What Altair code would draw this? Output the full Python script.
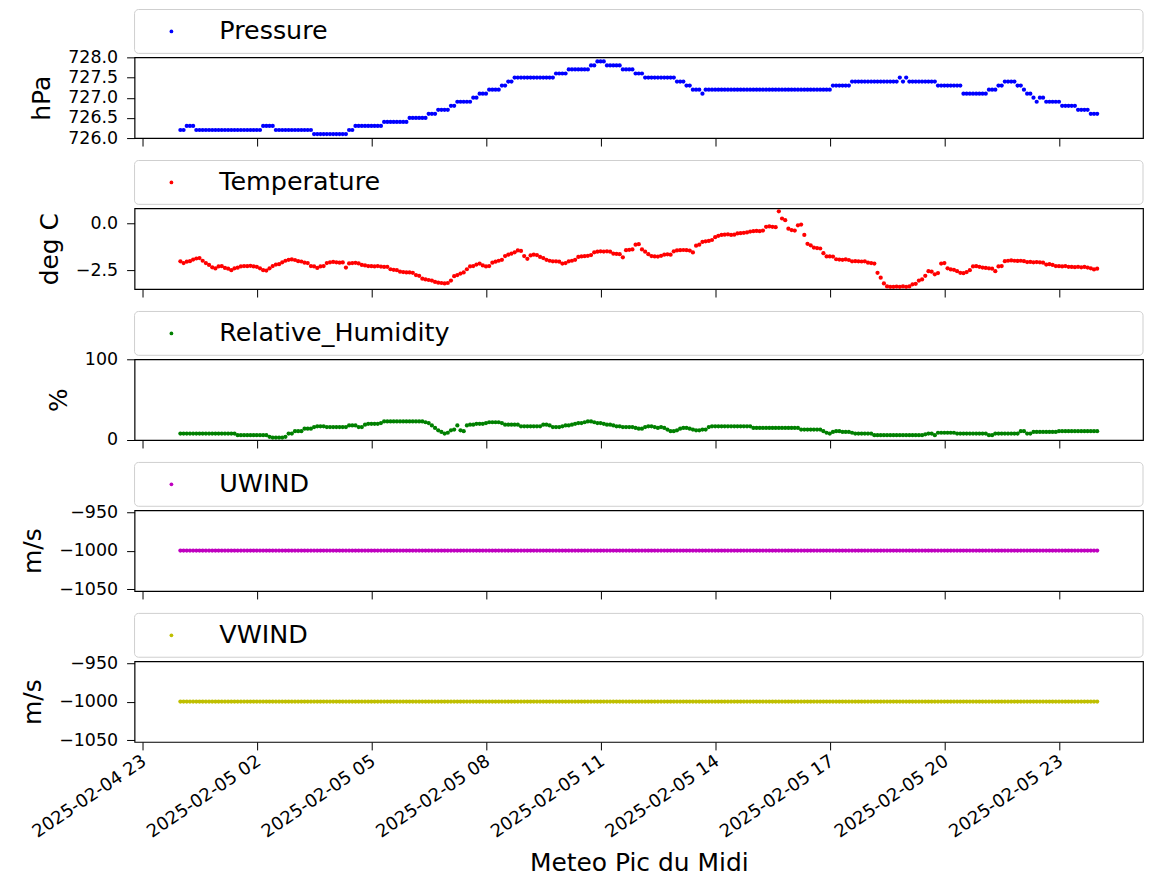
import altair as alt
import pandas as pd

# ---------------- data (5-minute samples, 2025-02-05 00:00 -> 2025-02-06 00:00) ----------------
pressure = [
    726.2, 726.2, 726.3, 726.3, 726.3, 726.2, 726.2, 726.2, 726.2, 726.2, 726.2, 726.2,
    726.2, 726.2, 726.2, 726.2, 726.2, 726.2, 726.2, 726.2, 726.2, 726.2, 726.2, 726.2,
    726.2, 726.2, 726.3, 726.3, 726.3, 726.3, 726.2, 726.2, 726.2, 726.2, 726.2, 726.2,
    726.2, 726.2, 726.2, 726.2, 726.2, 726.2, 726.1, 726.1, 726.1, 726.1, 726.1, 726.1,
    726.1, 726.1, 726.1, 726.1, 726.1, 726.2, 726.2, 726.3, 726.3, 726.3, 726.3, 726.3,
    726.3, 726.3, 726.3, 726.3, 726.4, 726.4, 726.4, 726.4, 726.4, 726.4, 726.4, 726.4,
    726.5, 726.5, 726.5, 726.5, 726.5, 726.5, 726.6, 726.6, 726.6, 726.7, 726.7, 726.7,
    726.7, 726.8, 726.8, 726.9, 726.9, 726.9, 726.9, 726.9, 727.0, 727.0, 727.1, 727.1,
    727.1, 727.2, 727.2, 727.2, 727.2, 727.3, 727.3, 727.4, 727.4, 727.5, 727.5, 727.5,
    727.5, 727.5, 727.5, 727.5, 727.5, 727.5, 727.5, 727.5, 727.5, 727.5, 727.6, 727.6,
    727.6, 727.6, 727.7, 727.7, 727.7, 727.7, 727.7, 727.7, 727.7, 727.8, 727.8, 727.9,
    727.9, 727.9, 727.8, 727.8, 727.8, 727.8, 727.8, 727.7, 727.7, 727.7, 727.7, 727.6,
    727.6, 727.6, 727.5, 727.5, 727.5, 727.5, 727.5, 727.5, 727.5, 727.5, 727.5, 727.5,
    727.4, 727.4, 727.4, 727.3, 727.3, 727.2, 727.2, 727.2, 727.1, 727.2, 727.2, 727.2,
    727.2, 727.2, 727.2, 727.2, 727.2, 727.2, 727.2, 727.2, 727.2, 727.2, 727.2, 727.2,
    727.2, 727.2, 727.2, 727.2, 727.2, 727.2, 727.2, 727.2, 727.2, 727.2, 727.2, 727.2,
    727.2, 727.2, 727.2, 727.2, 727.2, 727.2, 727.2, 727.2, 727.2, 727.2, 727.2, 727.2,
    727.2, 727.3, 727.3, 727.3, 727.3, 727.3, 727.3, 727.4, 727.4, 727.4, 727.4, 727.4,
    727.4, 727.4, 727.4, 727.4, 727.4, 727.4, 727.4, 727.4, 727.4, 727.4, 727.5, 727.4,
    727.5, 727.4, 727.4, 727.4, 727.4, 727.4, 727.4, 727.4, 727.4, 727.4, 727.3, 727.3,
    727.3, 727.3, 727.3, 727.3, 727.3, 727.3, 727.1, 727.1, 727.1, 727.1, 727.1, 727.1,
    727.1, 727.1, 727.2, 727.2, 727.2, 727.3, 727.3, 727.4, 727.4, 727.4, 727.4, 727.3,
    727.3, 727.2, 727.1, 727.1, 727.0, 726.9, 727.0, 727.0, 726.9, 726.9, 726.9, 726.9,
    726.9, 726.8, 726.8, 726.8, 726.8, 726.8, 726.7, 726.7, 726.7, 726.7, 726.6, 726.6,
    726.6,
]

temperature = [
    -2.03, -2.12, -2.05, -2.02, -1.94, -1.88, -1.86, -2.00, -2.12, -2.22, -2.35, -2.41,
    -2.30, -2.29, -2.38, -2.42, -2.50, -2.40, -2.37, -2.30, -2.28, -2.29, -2.27, -2.30,
    -2.32, -2.40, -2.50, -2.52, -2.40, -2.28, -2.20, -2.18, -2.08, -2.00, -1.95, -1.93,
    -1.96, -2.02, -2.04, -2.10, -2.12, -2.28, -2.30, -2.38, -2.30, -2.28, -2.12, -2.08,
    -2.06, -2.08, -2.10, -2.09, -2.36, -2.14, -2.12, -2.11, -2.14, -2.22, -2.25, -2.28,
    -2.29, -2.30, -2.28, -2.31, -2.33, -2.32, -2.45, -2.48, -2.50, -2.58, -2.60, -2.62,
    -2.62, -2.64, -2.76, -2.80, -2.95, -2.99, -3.02, -3.05, -3.12, -3.16, -3.18, -3.20,
    -3.18, -3.05, -2.82, -2.76, -2.68, -2.62, -2.45, -2.30, -2.28, -2.20, -2.15, -2.25,
    -2.30, -2.28, -2.10, -2.05, -2.00, -1.95, -1.75, -1.68, -1.62, -1.55, -1.45, -1.48,
    -1.75, -1.90, -1.72, -1.68, -1.70, -1.80, -1.86, -1.95, -2.00, -2.03, -2.03, -2.05,
    -2.15, -2.12, -2.03, -2.00, -1.95, -1.80, -1.77, -1.76, -1.74, -1.70, -1.55, -1.52,
    -1.50, -1.51, -1.50, -1.52, -1.62, -1.63, -1.65, -1.82, -1.44, -1.42, -1.40, -1.15,
    -1.12, -1.40, -1.52, -1.65, -1.75, -1.77, -1.78, -1.74, -1.68, -1.66, -1.68, -1.50,
    -1.45, -1.44, -1.43, -1.44, -1.46, -1.56, -1.20, -1.15, -1.00, -0.97, -0.95, -0.90,
    -0.75, -0.68, -0.63, -0.62, -0.60, -0.63, -0.62, -0.55, -0.54, -0.52, -0.50, -0.45,
    -0.43, -0.42, -0.43, -0.40, -0.20, -0.18, -0.20, -0.22, 0.62, 0.24, 0.15, -0.30,
    -0.37, -0.40, -0.12, -0.08, -0.63, -1.10, -1.18, -1.30, -1.33, -1.35, -1.60, -1.77,
    -1.77, -1.78, -1.92, -1.94, -1.95, -1.93, -1.96, -2.03, -2.02, -2.03, -2.04, -2.03,
    -2.10, -2.12, -2.15, -2.64, -2.90, -3.20, -3.36, -3.38, -3.38, -3.37, -3.38, -3.36,
    -3.38, -3.36, -3.25, -3.22, -3.05, -2.99, -2.80, -2.55, -2.58, -2.72, -2.65, -2.15,
    -2.12, -2.40, -2.46, -2.48, -2.55, -2.64, -2.66, -2.60, -2.50, -2.30, -2.29, -2.32,
    -2.36, -2.38, -2.40, -2.42, -2.55, -2.30, -2.28, -2.02, -2.00, -1.98, -2.00, -2.01,
    -2.00, -2.02, -2.07, -2.06, -2.08, -2.07, -2.08, -2.10, -2.20, -2.18, -2.22, -2.28,
    -2.29, -2.30, -2.28, -2.32, -2.33, -2.34, -2.32, -2.35, -2.33, -2.36, -2.40, -2.46,
    -2.42,
]

humidity = [
    8, 8, 8, 8, 8, 8, 8, 8, 8, 8, 8, 8,
    8, 8, 8, 8, 8, 8, 6, 6, 6, 6, 6, 6,
    6, 6, 6, 6, 4, 3, 3, 3, 3, 4, 8, 8,
    11, 11, 11, 14, 14, 14, 16, 17, 17, 17, 16, 16,
    16, 16, 16, 16, 16, 18, 18, 18, 16, 16, 19, 20,
    20, 20, 20, 21, 23, 23, 23, 23, 23, 23, 23, 23,
    23, 23, 23, 23, 23, 22, 21, 18, 15, 12, 10, 8,
    9, 12, 13, 18, 12, 11, 18, 19, 19, 20, 20, 20,
    21, 22, 22, 22, 22, 21, 19, 19, 19, 19, 19, 17,
    17, 17, 17, 17, 17, 17, 19, 19, 18, 16, 16, 16,
    17, 18, 18, 19, 20, 21, 21, 22, 23, 23, 22, 21,
    21, 20, 19, 19, 18, 17, 17, 16, 16, 16, 16, 15,
    14, 14, 16, 17, 17, 16, 15, 16, 15, 13, 11, 11,
    12, 14, 15, 15, 14, 13, 12, 12, 13, 13, 16, 17,
    17, 17, 17, 17, 17, 17, 17, 17, 17, 17, 17, 17,
    15, 15, 15, 15, 15, 15, 15, 15, 15, 15, 15, 15,
    15, 15, 15, 13, 13, 13, 13, 13, 13, 13, 11, 9,
    8, 10, 11, 11, 10, 10, 10, 9, 8, 8, 8, 8,
    8, 8, 6, 6, 6, 6, 6, 6, 6, 6, 6, 6,
    6, 6, 6, 6, 6, 6, 7, 8, 8, 6, 9, 9,
    9, 9, 9, 9, 8, 8, 8, 8, 8, 8, 8, 8,
    8, 8, 6, 6, 8, 8, 8, 8, 8, 8, 8, 8,
    11, 11, 8, 8, 10, 10, 10, 10, 10, 10, 10, 10,
    11, 11, 11, 11, 11, 11, 11, 11, 11, 11, 11, 11,
    11,
]

uwind = [
    -1000, -1000, -1000, -1000, -1000, -1000, -1000, -1000, -1000, -1000, -1000, -1000,
    -1000, -1000, -1000, -1000, -1000, -1000, -1000, -1000, -1000, -1000, -1000, -1000,
    -1000, -1000, -1000, -1000, -1000, -1000, -1000, -1000, -1000, -1000, -1000, -1000,
    -1000, -1000, -1000, -1000, -1000, -1000, -1000, -1000, -1000, -1000, -1000, -1000,
    -1000, -1000, -1000, -1000, -1000, -1000, -1000, -1000, -1000, -1000, -1000, -1000,
    -1000, -1000, -1000, -1000, -1000, -1000, -1000, -1000, -1000, -1000, -1000, -1000,
    -1000, -1000, -1000, -1000, -1000, -1000, -1000, -1000, -1000, -1000, -1000, -1000,
    -1000, -1000, -1000, -1000, -1000, -1000, -1000, -1000, -1000, -1000, -1000, -1000,
    -1000, -1000, -1000, -1000, -1000, -1000, -1000, -1000, -1000, -1000, -1000, -1000,
    -1000, -1000, -1000, -1000, -1000, -1000, -1000, -1000, -1000, -1000, -1000, -1000,
    -1000, -1000, -1000, -1000, -1000, -1000, -1000, -1000, -1000, -1000, -1000, -1000,
    -1000, -1000, -1000, -1000, -1000, -1000, -1000, -1000, -1000, -1000, -1000, -1000,
    -1000, -1000, -1000, -1000, -1000, -1000, -1000, -1000, -1000, -1000, -1000, -1000,
    -1000, -1000, -1000, -1000, -1000, -1000, -1000, -1000, -1000, -1000, -1000, -1000,
    -1000, -1000, -1000, -1000, -1000, -1000, -1000, -1000, -1000, -1000, -1000, -1000,
    -1000, -1000, -1000, -1000, -1000, -1000, -1000, -1000, -1000, -1000, -1000, -1000,
    -1000, -1000, -1000, -1000, -1000, -1000, -1000, -1000, -1000, -1000, -1000, -1000,
    -1000, -1000, -1000, -1000, -1000, -1000, -1000, -1000, -1000, -1000, -1000, -1000,
    -1000, -1000, -1000, -1000, -1000, -1000, -1000, -1000, -1000, -1000, -1000, -1000,
    -1000, -1000, -1000, -1000, -1000, -1000, -1000, -1000, -1000, -1000, -1000, -1000,
    -1000, -1000, -1000, -1000, -1000, -1000, -1000, -1000, -1000, -1000, -1000, -1000,
    -1000, -1000, -1000, -1000, -1000, -1000, -1000, -1000, -1000, -1000, -1000, -1000,
    -1000, -1000, -1000, -1000, -1000, -1000, -1000, -1000, -1000, -1000, -1000, -1000,
    -1000, -1000, -1000, -1000, -1000, -1000, -1000, -1000, -1000, -1000, -1000, -1000,
    -1000,
]

vwind = list(uwind)  # same constant reading (-1000 m/s fill value) as UWIND

series_names = ["Pressure", "Temperature", "Relative_Humidity", "UWIND", "VWIND"]
series_units = ["hPa", "deg C", "%", "m/s", "m/s"]
series_colors = ["#0000ff", "#ff0000", "#008000", "#bf00bf", "#bfbf00"]
series_values = [pressure, temperature, humidity, uwind, vwind]
y_domains = [[726.0, 728.0], [-3.5, 0.78], [0, 100], [-1052.5, -947.5], [-1052.5, -947.5]]
y_ticks = [[726.0, 726.5, 727.0, 727.5, 728.0], [-2.5, 0.0], [0, 100],
           [-1050, -1000, -950], [-1050, -1000, -950]]
y_formats = [".1f", ".1f", "d", "d", "d"]
x_title = "Meteo Pic du Midi"
start_time = "2025-02-05 00:00"
x_tick_hours = [(4, 23), (5, 2), (5, 5), (5, 8), (5, 11), (5, 14), (5, 17), (5, 20), (5, 23)]

FONT = "DejaVu Sans"
W = 1012
H = 81

x_ticks = [alt.DateTime(year=2025, month=2, date=d, hours=h) for d, h in x_tick_hours]
x_domain = [alt.DateTime(year=2025, month=2, date=4, hours=22, minutes=48),
            alt.DateTime(year=2025, month=2, date=6, hours=1, minutes=12)]


def panel(i, bottom):
    vals = series_values[i]
    times = pd.date_range(start_time, periods=len(vals), freq="5min").strftime("%Y-%m-%dT%H:%M:%S")
    df = pd.DataFrame({"time": list(times), "value": vals})
    color = series_colors[i]
    if bottom:
        x_axis = alt.Axis(values=x_ticks, format="%Y-%m-%d %H", labelAngle=-34,
                          labelAlign="right", labelBaseline="top", labelFontSize=18,
                          labelPadding=2, labelOffset=-3, labelFlush=False, labelOverlap=False,
                          tickSize=8, grid=False, domain=False,
                          title=x_title, titleFontSize=25, titlePadding=10)
    else:
        x_axis = alt.Axis(values=x_ticks, labels=False, tickSize=8, grid=False,
                          domain=False, title=None)
    pts = alt.Chart(df).mark_circle(size=18, opacity=1, color=color).encode(
        x=alt.X("time:T", scale=alt.Scale(domain=x_domain), axis=x_axis),
        y=alt.Y("value:Q",
                scale=alt.Scale(domain=y_domains[i], nice=False, zero=False),
                axis=alt.Axis(values=y_ticks[i], format=y_formats[i], title=series_units[i],
                              titleFontSize=25, titlePadding=13, labelFontSize=17.5,
                              labelPadding=9, tickSize=8, grid=False, domain=False,
                              labelFlush=False, labelOverlap=False)),
    )
    leg = pd.DataFrame({"label": [series_names[i]]})
    box = alt.Chart(leg).mark_rect(fill="white", stroke="#cfcfcf", strokeWidth=1,
                                   cornerRadius=4).encode(
        x=alt.value(0), x2=alt.value(W), y=alt.value(-48), y2=alt.value(-4))
    dot = alt.Chart(leg).mark_circle(size=14, opacity=1, color=color).encode(
        x=alt.value(37), y=alt.value(-26))
    txt = alt.Chart(leg).mark_text(align="left", baseline="middle", fontSize=25.5,
                                   font=FONT, color="black").encode(
        x=alt.value(85), y=alt.value(-26), text="label:N")
    return alt.layer(box, dot, txt, pts).properties(width=W, height=H)


panels = [panel(i, i == len(series_names) - 1) for i in range(len(series_names))]

chart = alt.vconcat(*panels, spacing=70.5, bounds="flush").properties(
    padding={"left": 12, "top": -2, "right": 0, "bottom": 0}
).configure_view(stroke="black", strokeWidth=1.2).configure_axis(
    labelFont=FONT, titleFont=FONT, labelColor="black", titleColor="black",
    tickColor="black", tickWidth=1, titleFontWeight="normal"
)

chart.save("out.html", embed_options={"renderer": "svg", "actions": False})
